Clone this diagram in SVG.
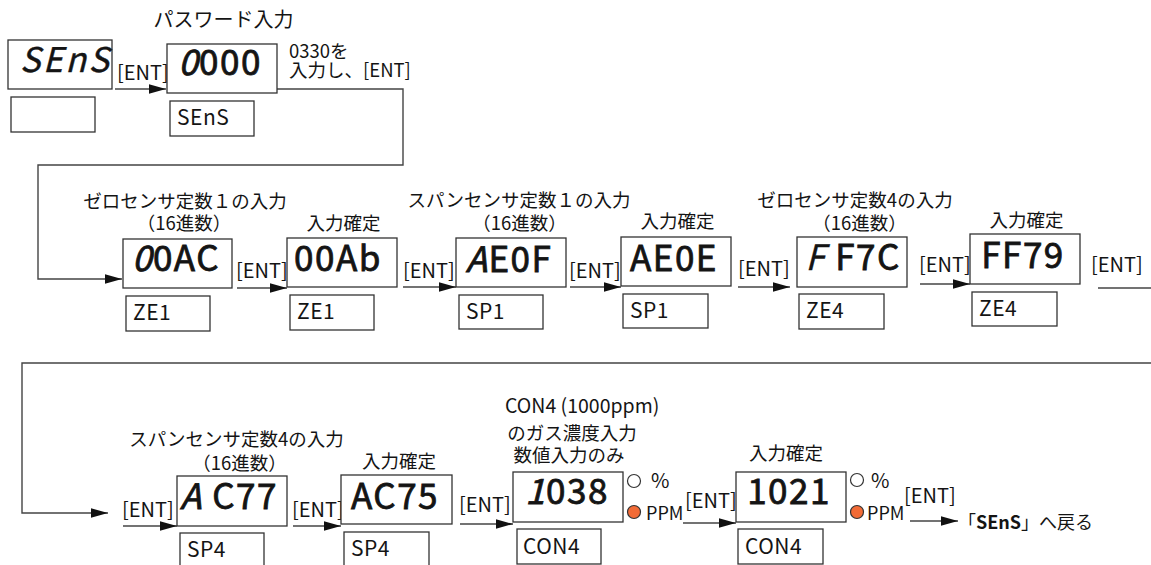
<svg xmlns="http://www.w3.org/2000/svg" width="1151" height="565" viewBox="0 0 1151 565">
<defs>
<marker id="ah" markerUnits="userSpaceOnUse" markerWidth="18" markerHeight="10" refX="17" refY="4.75" orient="auto">
<path d="M0,0 L17,4.75 L0,9.5 Z" fill="#111"/>
</marker>
<style>
.box{fill:#fff;stroke:#333;stroke-width:1.3}
.ln{fill:none;stroke:#444;stroke-width:1.4}
.arr{fill:none;stroke:#444;stroke-width:1.4;marker-end:url(#ah)}
text{font-family:"Noto Sans CJK JP","Noto Sans",sans-serif;fill:#141414}
.jp{font-size:18.5px}
.ent{font-size:20px}
.lbl{font-size:21px;letter-spacing:0.5px}
.disp{font-size:35px;font-weight:400;letter-spacing:1.5px;stroke:#141414;stroke-width:0.8px}
.it{font-style:italic}
.small{font-size:18px}
.pct{font-size:20px}
.on{fill:#f26b36;stroke:#333;stroke-width:1.2}
.off{fill:#fff;stroke:#333;stroke-width:1.2}
</style>
</defs>

<g id="connectors">
<line class="arr" x1="115" y1="89" x2="166" y2="89"/>
<polyline class="arr" points="277,89 403,89 403,165 38,165 38,279 122,279"/>
<line class="arr" x1="237" y1="288" x2="287" y2="288"/>
<line class="arr" x1="403" y1="287" x2="456" y2="287"/>
<line class="arr" x1="570" y1="287" x2="621" y2="287"/>
<line class="arr" x1="738" y1="287" x2="790" y2="287"/>
<line class="arr" x1="920" y1="284" x2="970" y2="284"/>
<line class="ln" x1="1098" y1="288" x2="1151" y2="288"/>
<polyline class="arr" points="1151,363 22,363 22,513 108,513"/>
<line class="arr" x1="123" y1="526" x2="177" y2="526"/>
<line class="arr" x1="293" y1="526" x2="341" y2="526"/>
<line class="arr" x1="460" y1="524" x2="513" y2="524"/>
<line class="arr" x1="683" y1="523" x2="736" y2="523"/>
<line class="arr" x1="910" y1="521" x2="958" y2="521"/>
</g>

<g id="edge-labels">
<text class="ent" x="117" y="80">[ENT]</text>
<text class="jp" x="289" y="58">0330を</text>
<text class="jp" x="289" y="77">入力し、[ENT]</text>
<text class="ent" x="236" y="278">[ENT]</text>
<text class="ent" x="403" y="278">[ENT]</text>
<text class="ent" x="569" y="278">[ENT]</text>
<text class="ent" x="738" y="276">[ENT]</text>
<text class="ent" x="919" y="272">[ENT]</text>
<text class="ent" x="1091" y="272">[ENT]</text>
<text class="ent" x="122" y="517">[ENT]</text>
<text class="ent" x="292" y="517">[ENT]</text>
<text class="ent" x="459" y="512">[ENT]</text>
<text class="ent" x="685" y="508">[ENT]</text>
<text class="ent" x="904" y="503">[ENT]</text>
</g>

<g id="node-sens">
<rect class="box" x="8" y="40" width="104" height="49"/>
<text class="disp it" x="20" y="72" style="font-size:34px;letter-spacing:2.5px;stroke-width:0.4px">SEnS</text>
<rect class="box" x="11" y="97" width="84" height="35"/>
</g>

<g id="node-password">
<text class="jp" x="223.5" y="27" text-anchor="middle" style="font-size:20px">パスワード入力</text>
<rect class="box" x="167" y="44" width="110" height="49"/>
<text class="disp" x="220" y="75" text-anchor="middle"><tspan class="it">0</tspan>000</text>
<rect class="box" x="170" y="101" width="84" height="35"/>
<text class="lbl" x="177" y="125">SEnS</text>
</g>

<g id="node-ze1-input">
<text class="jp" x="185" y="208" text-anchor="middle">ゼロセンサ定数１の入力</text>
<text class="jp" x="184" y="230" text-anchor="middle">（16進数）</text>
<rect class="box" x="123" y="239" width="109" height="49"/>
<text class="disp" x="176" y="271" text-anchor="middle"><tspan class="it">0</tspan>0AC</text>
<rect class="box" x="126" y="296" width="84" height="35"/>
<text class="lbl" x="133" y="320">ZE1</text>
</g>

<g id="node-ze1-confirm">
<text class="jp" x="343.5" y="230" text-anchor="middle">入力確定</text>
<rect class="box" x="287" y="238" width="110" height="49"/>
<text class="disp" x="338" y="271" text-anchor="middle">00Ab</text>
<rect class="box" x="290" y="295" width="84" height="35"/>
<text class="lbl" x="297" y="319">ZE1</text>
</g>

<g id="node-sp1-input">
<text class="jp" x="519" y="207" text-anchor="middle">スパンセンサ定数１の入力</text>
<text class="jp" x="519.5" y="230" text-anchor="middle">（16進数）</text>
<rect class="box" x="456" y="238" width="110" height="49"/>
<text class="disp" x="509" y="272" text-anchor="middle"><tspan class="it">A</tspan>E0F</text>
<rect class="box" x="459" y="295" width="84" height="34"/>
<text class="lbl" x="466" y="319">SP1</text>
</g>

<g id="node-sp1-confirm">
<text class="jp" x="677.5" y="228" text-anchor="middle">入力確定</text>
<rect class="box" x="621" y="237" width="110" height="49"/>
<text class="disp" x="674" y="271" text-anchor="middle">AE0E</text>
<rect class="box" x="623" y="294" width="85" height="34"/>
<text class="lbl" x="630" y="318">SP1</text>
</g>

<g id="node-ze4-input">
<text class="jp" x="855" y="207" text-anchor="middle">ゼロセンサ定数4の入力</text>
<text class="jp" x="859.5" y="230" text-anchor="middle">（16進数）</text>
<rect class="box" x="797" y="237" width="110" height="50"/>
<text class="disp" x="853" y="270" text-anchor="middle"><tspan class="it" style="stroke-width:0.3px">F</tspan> F7C</text>
<rect class="box" x="799" y="294" width="85" height="35"/>
<text class="lbl" x="806" y="318">ZE4</text>
</g>

<g id="node-ze4-confirm">
<text class="jp" x="1026.5" y="227" text-anchor="middle">入力確定</text>
<rect class="box" x="970" y="234" width="110" height="50"/>
<text class="disp" x="1023" y="268" text-anchor="middle">FF79</text>
<rect class="box" x="972" y="292" width="85" height="34"/>
<text class="lbl" x="979" y="316">ZE4</text>
</g>

<g id="node-sp4-input">
<text class="jp" x="236.5" y="446" text-anchor="middle">スパンセンサ定数4の入力</text>
<text class="jp" x="239.5" y="470" text-anchor="middle">（16進数）</text>
<rect class="box" x="177" y="476" width="110" height="50"/>
<text class="disp" x="229" y="509" text-anchor="middle"><tspan class="it">A</tspan> C77</text>
<rect class="box" x="180" y="533" width="84" height="40"/>
<text class="lbl" x="187" y="557">SP4</text>
</g>

<g id="node-sp4-confirm">
<text class="jp" x="399" y="468" text-anchor="middle">入力確定</text>
<rect class="box" x="341" y="475" width="111" height="49"/>
<text class="disp" x="395" y="509" text-anchor="middle">AC75</text>
<rect class="box" x="344" y="532" width="85" height="40"/>
<text class="lbl" x="351" y="556">SP4</text>
</g>

<g id="node-con4-input">
<text class="jp" x="505" y="413" style="font-size:19.5px">CON4 (1000ppm)</text>
<text class="jp" x="572" y="440" text-anchor="middle">のガス濃度入力</text>
<text class="jp" x="569" y="462" text-anchor="middle">数値入力のみ</text>
<rect class="box" x="513" y="472" width="110" height="50"/>
<text class="disp" x="567" y="504" text-anchor="middle"><tspan class="it">1</tspan>038</text>
<rect class="box" x="517" y="529" width="84" height="35"/>
<text class="lbl" x="523" y="554">CON4</text>
<circle class="off" cx="634" cy="481" r="6.5"/>
<text class="pct" x="651" y="488">%</text>
<circle class="on" cx="634" cy="512" r="6.5"/>
<text class="small" x="646" y="520">PPM</text>
</g>

<g id="node-con4-confirm">
<text class="jp" x="786" y="460" text-anchor="middle">入力確定</text>
<rect class="box" x="736" y="472" width="110" height="50"/>
<text class="disp" x="789" y="504" text-anchor="middle">1021</text>
<rect class="box" x="738" y="529" width="85" height="35"/>
<text class="lbl" x="745" y="554">CON4</text>
<circle class="off" cx="857" cy="480" r="6.5"/>
<text class="pct" x="871" y="488">%</text>
<circle class="on" cx="857" cy="512" r="6.5"/>
<text class="small" x="867" y="520">PPM</text>
</g>

<g id="node-return">
<text class="jp" x="958" y="529" style="font-size:18px">「<tspan font-weight="bold">SEnS</tspan>」へ戻る</text>
</g>
</svg>
